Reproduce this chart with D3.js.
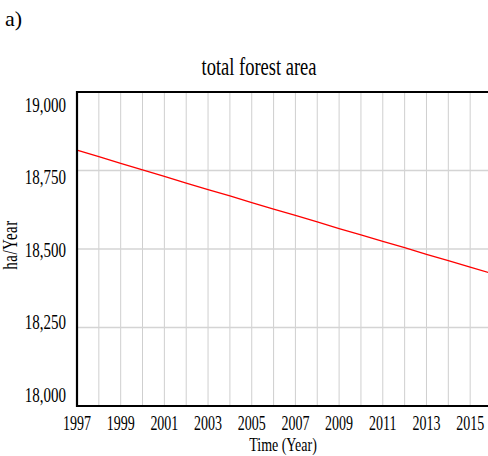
<!DOCTYPE html>
<html>
<head>
<meta charset="utf-8">
<script src="https://cdn.jsdelivr.net/npm/d3@7"></script>
<style>
  body { margin: 0; background: #fff; }
  svg text { font-family: "Liberation Serif", "Times New Roman", serif; fill: #000; }
</style>
</head>
<body>
<svg id="chart" width="488" height="456"></svg>
<script>
// total forest area
var years = [1997, 1998, 1999, 2000, 2001, 2002, 2003, 2004, 2005, 2006,
             2007, 2008, 2009, 2010, 2011, 2012, 2013, 2014, 2015, 2016];
var forestArea = [18815, 18794, 18773, 18752, 18731, 18710, 18689, 18669, 18648, 18627,
                  18607, 18586, 18565, 18545, 18524, 18504, 18483, 18463, 18442, 18422];
var yTicks = [18000, 18250, 18500, 18750, 19000];
var xTickLabels = [1997, 1999, 2001, 2003, 2005, 2007, 2009, 2011, 2013, 2015];

var svg = d3.select("#chart");
// plot box (right side runs past the window edge, like the original)
var pL = 77, pR = 492, pT = 92, pB = 406;
var sy = 1.4; // the original's text is drawn tall and narrow

var x = d3.scaleLinear().domain([1997, 2016]).range([pL, pR]);
var y = d3.scaleLinear().domain([18000, 19000]).range([pB, pT]);
// the value labels sit a bit inside the gridlines in the original
var yLab = d3.scaleLinear().domain([18000, 19000]).range([395, 104.5]);

// grid
svg.append("g").selectAll("line")
    .data(years)
    .enter().append("line")
    .attr("x1", d => x(d)).attr("x2", d => x(d))
    .attr("y1", pT).attr("y2", pB)
    .attr("stroke", "#cfcfcf").attr("stroke-width", 1);

svg.append("g").selectAll("line")
    .data(yTicks)
    .enter().append("line")
    .attr("x1", pL).attr("x2", pR)
    .attr("y1", d => y(d)).attr("y2", d => y(d))
    .attr("stroke", "#d4d4d4").attr("stroke-width", 1.5);

// series
var line = d3.line().x((d, i) => x(years[i])).y(d => y(d));
svg.append("path")
    .datum(forestArea)
    .attr("d", line)
    .attr("fill", "none")
    .attr("stroke", "#ff0000")
    .attr("stroke-width", 1.3);

// frame (left, top, bottom)
svg.append("path")
    .attr("d", "M" + pR + "," + pT + "H" + pL + "V" + pB + "H" + pR)
    .attr("fill", "none")
    .attr("stroke", "#000")
    .attr("stroke-width", 2.2);

// y tick labels
svg.append("g").selectAll("text")
    .data(yTicks)
    .enter().append("text")
    .attr("transform", d => "translate(66," + (yLab(d) + 7) + ") scale(1," + sy + ")")
    .attr("text-anchor", "end")
    .style("font-size", "15px")
    .text(d => d3.format(",")(d));

// x tick labels
svg.append("g").selectAll("text")
    .data(xTickLabels)
    .enter().append("text")
    .attr("transform", d => "translate(" + x(d) + ",430) scale(1,1.45)")
    .attr("text-anchor", "middle")
    .style("font-size", "14px")
    .text(d => d);

// titles
svg.append("text")
    .attr("transform", "translate(259,75) scale(1," + sy + ")")
    .attr("text-anchor", "middle")
    .style("font-size", "18.5px")
    .text("total forest area");

svg.append("text")
    .attr("transform", "translate(283,451) scale(1," + sy + ")")
    .attr("text-anchor", "middle")
    .style("font-size", "14px")
    .text("Time (Year)");

svg.append("text")
    .attr("transform", "translate(17,245) rotate(-90) scale(1,1.35)")
    .attr("text-anchor", "middle")
    .style("font-size", "15px")
    .style("letter-spacing", "0.5px")
    .text("ha/Year");

svg.append("text")
    .attr("x", 5).attr("y", 26)
    .style("font-size", "22px")
    .text("a)");
</script>
</body>
</html>
